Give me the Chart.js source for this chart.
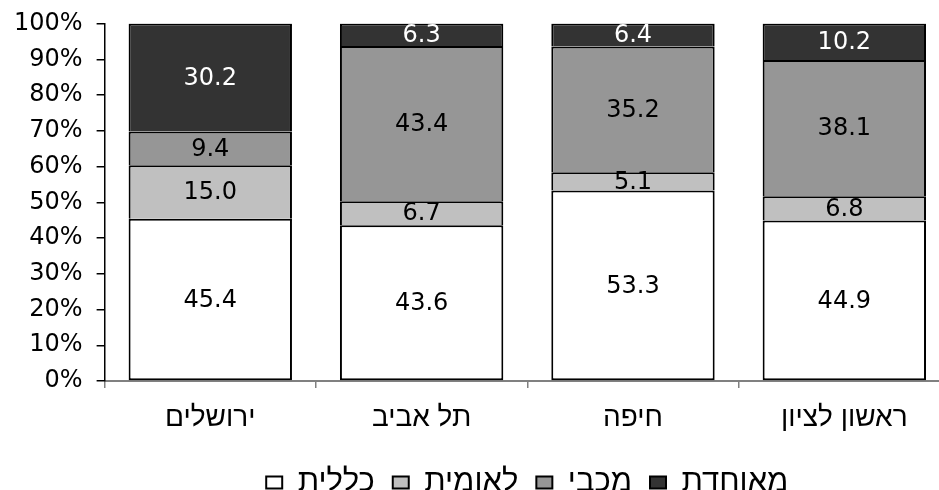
<!DOCTYPE html>
<html>
<head>
<meta charset="utf-8">
<script src="https://cdn.jsdelivr.net/npm/chart.js@4"></script>
<style>
  html, body { margin: 0; padding: 0; background: #fff; overflow: hidden; }
  #wrap { width: 939px; height: 490px; overflow: hidden; }
  #inner { width: 950px; height: 508px; }
</style>
</head>
<body>
<div id="wrap"><div id="inner"><canvas id="myChart"></canvas></div></div>
<script>
const cities = ['ירושלים', 'תל אביב', 'חיפה', 'ראשון לציון'];

const klalit = [45.4, 43.6, 53.3, 44.9];
const leumit = [15.0, 6.7, 5.1, 6.8];
const maccabi = [9.4, 43.4, 35.2, 38.1];
const meuhedet = [30.2, 6.3, 6.4, 10.2];

const yTicks = [0, 10, 20, 30, 40, 50, 60, 70, 80, 90, 100];

const FONT = '"DejaVu Sans", Verdana, sans-serif';
const HEB = '"Liberation Sans", Arial, sans-serif';

// labels in the middle of each segment
const segmentLabels = {
    id: 'segmentLabels',
    afterDatasetsDraw(chart) {
        const ctx = chart.ctx;
        ctx.save();
        ctx.font = '24px ' + FONT;
        ctx.textAlign = 'center';
        ctx.textBaseline = 'middle';
        chart.data.datasets.forEach(function (ds, i) {
            const meta = chart.getDatasetMeta(i);
            meta.data.forEach(function (bar, j) {
                ctx.fillStyle = ds.labelColor;
                ctx.fillText(ds.data[j].toFixed(1), bar.x, (bar.y + bar.base) / 2 + 1);
            });
        });
        ctx.restore();
    }
};

function series(label, values, color, textColor, skip) {
    return {
        label: label,
        data: values,
        backgroundColor: color,
        borderColor: '#000',
        borderWidth: 2,
        borderSkipped: skip,
        labelColor: textColor,
        barPercentage: 0.773,
        categoryPercentage: 1
    };
}

const data = {
    labels: cities,
    datasets: [
        series('כללית', klalit, '#ffffff', '#000', false),
        series('לאומית', leumit, '#c0c0c0', '#000', 'start'),
        series('מכבי', maccabi, '#969696', '#000', 'start'),
        series('מאוחדת', meuhedet, '#333333', '#fff', 'start')
    ]
};

const config = {
    type: 'bar',
    data: data,
    options: {
        responsive: true,
        maintainAspectRatio: false,
        animation: false,
        layout: { padding: { top: 23, right: 0, left: 0, bottom: 0 } },
        plugins: {
            tooltip: { enabled: false },
            legend: {
                position: 'bottom',
                fullSize: false,
                labels: {
                    color: '#000',
                    font: { family: HEB, size: 31, lineHeight: 1 },
                    boxWidth: 16,
                    boxHeight: 12,
                    padding: 18
                }
            }
        },
        scales: {
            x: {
                stacked: true,
                grid: {
                    display: true,
                    drawOnChartArea: false,
                    offset: true,
                    color: '#808080',
                    lineWidth: 1.5,
                    tickLength: 7
                },
                border: { color: '#808080', width: 2 },
                ticks: {
                    color: '#000',
                    font: { family: HEB, size: 28, lineHeight: 1.75 },
                    padding: 6
                }
            },
            y: {
                stacked: true,
                min: 0,
                max: 100,
                afterBuildTicks: function (axis) {
                    axis.ticks = yTicks.map(function (v) { return { value: v }; });
                },
                grid: {
                    display: true,
                    drawOnChartArea: false,
                    color: '#000',
                    lineWidth: 1.5,
                    tickLength: 8
                },
                border: { color: '#000', width: 1.5 },
                ticks: {
                    color: '#000',
                    font: { family: FONT, size: 24, lineHeight: 0.8 },
                    padding: 14,
                    callback: function (v) { return v + '%'; }
                }
            }
        }
    },
    plugins: [segmentLabels]
};

new Chart(document.getElementById('myChart'), config);
</script>
</body>
</html>
